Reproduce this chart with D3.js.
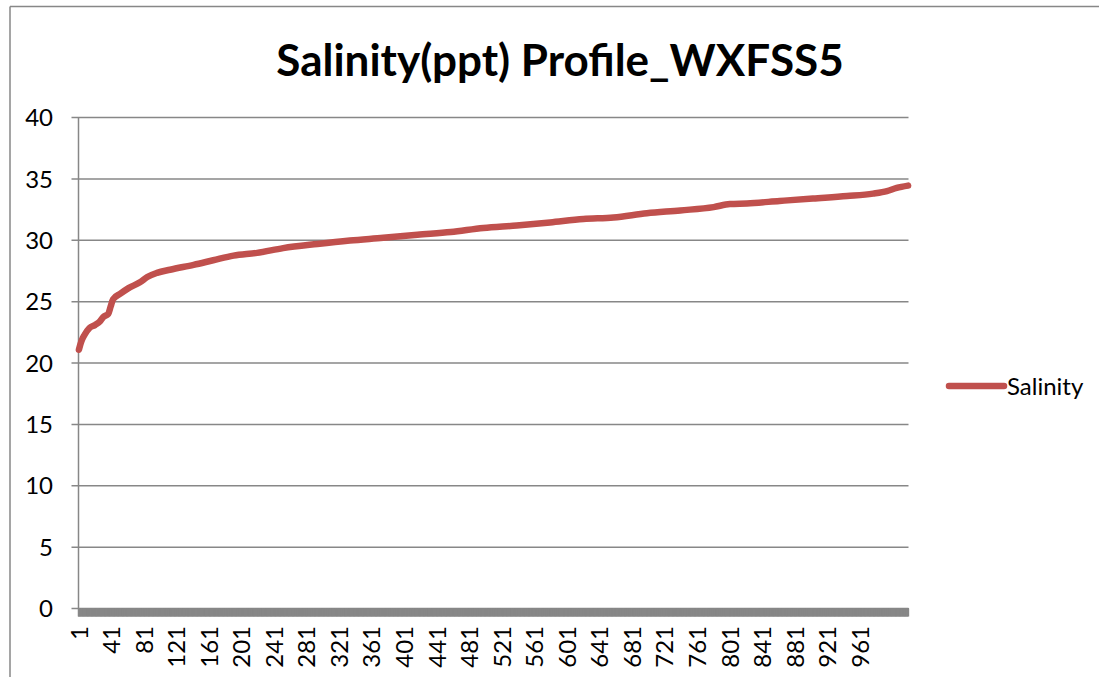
<!DOCTYPE html>
<html>
<head>
<meta charset="utf-8">
<script src="https://cdn.jsdelivr.net/npm/d3@7"></script>
<style>
  html, body { margin: 0; padding: 0; background: #fff; overflow: hidden; }
  svg { display: block; }
</style>
</head>
<body>
<svg id="chart" width="1099" height="677"></svg>
<script>
// Sample number (1-based) of each reading along the profile
const sampleIndex = [1, 4, 8, 14, 21, 27, 31, 37, 40, 43, 52, 62, 76, 85, 97, 113, 142, 166, 191, 220,
  252, 294, 334, 375, 417, 458, 498, 539, 580, 621, 658, 699, 740, 781, 801, 822, 862, 903, 945, 977,
  994, 1006, 1020];
// Salinity (ppt) at each sample
const salinity = [21.08, 21.76, 22.3, 22.85, 23.1, 23.4, 23.75, 24.0, 24.6, 25.2, 25.65, 26.1, 26.57, 27.0, 27.34, 27.6, 28.0, 28.37, 28.75, 28.97,
  29.36, 29.7, 29.98, 30.2, 30.45, 30.67, 31.0, 31.2, 31.45, 31.73, 31.86, 32.2, 32.43, 32.7, 32.95, 33.0, 33.2, 33.4, 33.6, 33.8,
  34.0, 34.26, 34.45];
// Total number of samples on the category axis
const sampleCount = 1020;
// Category labels shown on the horizontal axis
const xTickLabels = ["1", "41", "81", "121", "161", "201", "241", "281", "321", "361", "401", "441", "481",
  "521", "561", "601", "641", "681", "721", "761", "801", "841", "881", "921", "961"];
// Value ticks on the vertical axis
const yTicks = [0, 5, 10, 15, 20, 25, 30, 35, 40];

const svg = d3.select("#chart");
const font = "Lato, 'Open Sans', sans-serif";
const gray = "#878787";
const red = "#c0504d";

const plot = { left: 78.5, right: 908.5, top: 117.5, bottom: 608.5 };

const x = d3.scaleBand()
  .domain(d3.range(1, sampleCount + 1))
  .range([plot.left, plot.right])
  .paddingInner(0).paddingOuter(0);
const xc = d => x(d) + x.bandwidth() / 2;

const y = d3.scaleLinear().domain([0, 40]).range([plot.bottom, plot.top]);

// Outer chart frame
svg.append("line").attr("x1", 10).attr("x2", 1099).attr("y1", 6.5).attr("y2", 6.5)
  .attr("stroke", gray).attr("stroke-width", 1.5);
svg.append("line").attr("x1", 10).attr("x2", 10).attr("y1", 6.5).attr("y2", 677)
  .attr("stroke", gray).attr("stroke-width", 1.5);

// Title
svg.append("text")
  .attr("x", 560).attr("y", 76)
  .attr("text-anchor", "middle")
  .attr("font-family", font).attr("font-weight", "bold").attr("font-size", 44)
  .attr("fill", "#000")
  .text("Salinity(ppt) Profile_WXFSS5");

// Horizontal gridlines with outside tick marks
svg.append("g")
  .selectAll("line")
  .data(yTicks)
  .join("line")
  .attr("x1", plot.left - 7).attr("x2", plot.right)
  .attr("y1", d => y(d)).attr("y2", d => y(d))
  .attr("stroke", gray).attr("stroke-width", 1.5);

// Vertical axis line
svg.append("line")
  .attr("x1", plot.left).attr("x2", plot.left)
  .attr("y1", y(40)).attr("y2", y(0) + 8)
  .attr("stroke", gray).attr("stroke-width", 1.5);

// Vertical axis labels
svg.append("g")
  .selectAll("text")
  .data(yTicks)
  .join("text")
  .attr("x", 53).attr("y", d => y(d))
  .attr("dy", "0.36em")
  .attr("text-anchor", "end")
  .attr("font-family", font).attr("font-size", 24)
  .attr("fill", "#000")
  .text(d => d);

// Category axis: one tick mark per sample (they merge into a solid band)
const xAxisTicks = d3.axisBottom(x)
  .tickValues(x.domain())
  .tickSize(8)
  .tickSizeOuter(0)
  .tickFormat("");
const gTicks = svg.append("g")
  .attr("transform", `translate(0,${plot.bottom})`)
  .call(xAxisTicks);
gTicks.select(".domain").attr("stroke", gray).attr("stroke-width", 2);
gTicks.selectAll(".tick line").attr("stroke", gray).attr("stroke-width", 2);

// Category labels, rotated
svg.append("g")
  .selectAll("text")
  .data(xTickLabels)
  .join("text")
  .attr("transform", d => `translate(${xc(+d)},626) rotate(-90)`)
  .attr("dy", "0.36em")
  .attr("text-anchor", "end")
  .attr("font-family", font).attr("font-size", 24)
  .attr("fill", "#000")
  .text(d => d);

// Salinity line
const line = d3.line()
  .x((d, i) => xc(sampleIndex[i]))
  .y(d => y(d))
  .curve(d3.curveMonotoneX);

svg.append("path")
  .datum(salinity)
  .attr("d", line)
  .attr("fill", "none")
  .attr("stroke", red)
  .attr("stroke-width", 6.5)
  .attr("stroke-linejoin", "round")
  .attr("stroke-linecap", "round");

// Legend
svg.append("line")
  .attr("x1", 949).attr("x2", 1004)
  .attr("y1", 386).attr("y2", 386)
  .attr("stroke", red).attr("stroke-width", 6.5)
  .attr("stroke-linecap", "round");
svg.append("text")
  .attr("x", 1007).attr("y", 386)
  .attr("dy", "0.36em")
  .attr("font-family", font).attr("font-size", 24)
  .attr("fill", "#000")
  .text("Salinity");
</script>
</body>
</html>
